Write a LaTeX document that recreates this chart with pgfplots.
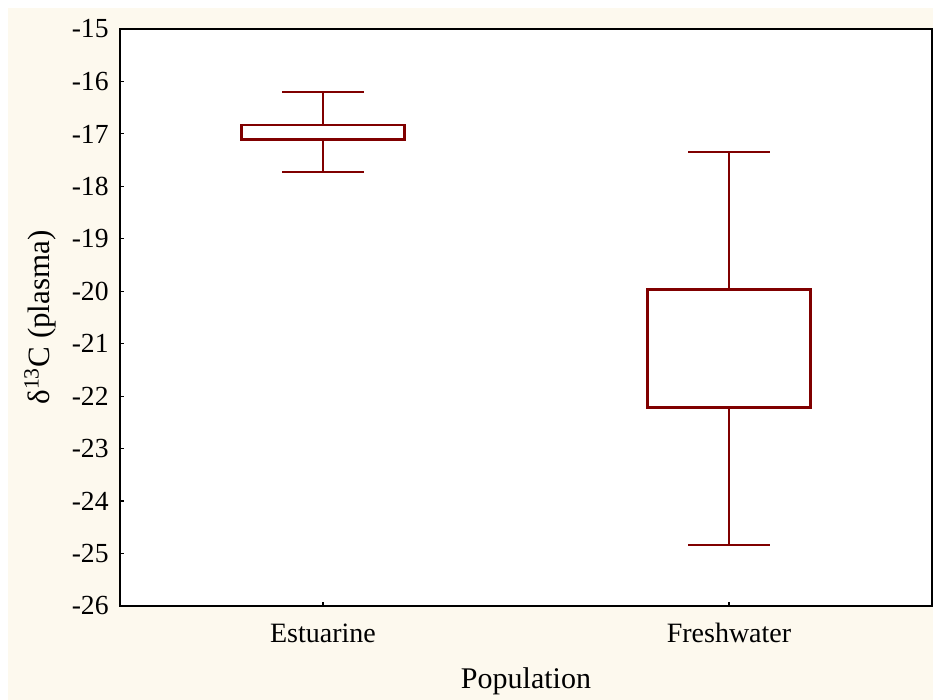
\documentclass[border=0pt]{standalone}
\usepackage{fontspec}
\setmainfont{Liberation Serif}
\usepackage{pgfplots}
\pgfplotsset{compat=1.18}
\usepgfplotslibrary{statistics}

\definecolor{cream}{RGB}{253,249,238}
\definecolor{boxred}{RGB}{128,0,0}

\begin{document}
\begin{tikzpicture}
  % page background: thin white margin, cream panel
  \useasboundingbox (-60pt,-47pt) rectangle (406.5pt,303pt);
  \fill[white] (-60pt,-47pt) rectangle (406.5pt,303pt);
  \fill[cream] (-56pt,-47pt) rectangle (406.5pt,299pt);

  \begin{axis}[
    scale only axis,
    width=406pt, height=288.5pt,
    xmin=0.5, xmax=2.5,
    ymin=-26, ymax=-15,
    axis background/.style={fill=white},
    axis line style={line width=1pt, black},
    tick align=inside,
    xtick pos=bottom, ytick pos=left,
    major tick length=2pt,
    tick style={line width=0.6pt, black},
    xtick={1,2},
    xticklabels={Estuarine, Freshwater},
    ytick={-26,-25,-24,-23,-22,-21,-20,-19,-18,-17,-16,-15},
    yticklabels={-26,-25,-24,-23,-22,-21,-20,-19,-18,-17,-16,-15},
    yticklabel style={font=\fontsize{13.8}{16}\selectfont, anchor=east, inner xsep=0pt, xshift=-5.5pt},
    xticklabel style={font=\fontsize{14}{16}\selectfont, anchor=base, yshift=-18.5pt},
    xlabel={Population},
    ylabel={δ\textsuperscript{13}C (plasma)},
    every axis x label/.style={at={(axis description cs:0.5,0)}, anchor=base, yshift=-41.5pt, font=\fontsize{15}{18}\selectfont},
    every axis y label/.style={at={(axis description cs:0,0.5)}, anchor=center, xshift=-40pt, rotate=90, font=\fontsize{15.5}{18}\selectfont},
    boxplot/draw direction=y,
    boxplot/box extend=0.4,
    boxplot/whisker extend=0.2,
    boxplot/draw/median/.code={},
    boxplot/every box/.style={draw=boxred, line width=1.4pt, fill=white},
    boxplot/every whisker/.style={draw=boxred, line width=0.85pt},
  ]
    % Estuarine
    \addplot[boxred, boxplot prepared={
        draw position=1,
        lower whisker=-17.73, lower quartile=-17.10,
        median=-16.95,
        upper quartile=-16.83, upper whisker=-16.20}]
      coordinates {};
    % Freshwater
    \addplot[boxred, boxplot prepared={
        draw position=2,
        lower whisker=-24.84, lower quartile=-22.21,
        median=-21.08,
        upper quartile=-19.96, upper whisker=-17.35}]
      coordinates {};
  \end{axis}
\end{tikzpicture}
\end{document}
